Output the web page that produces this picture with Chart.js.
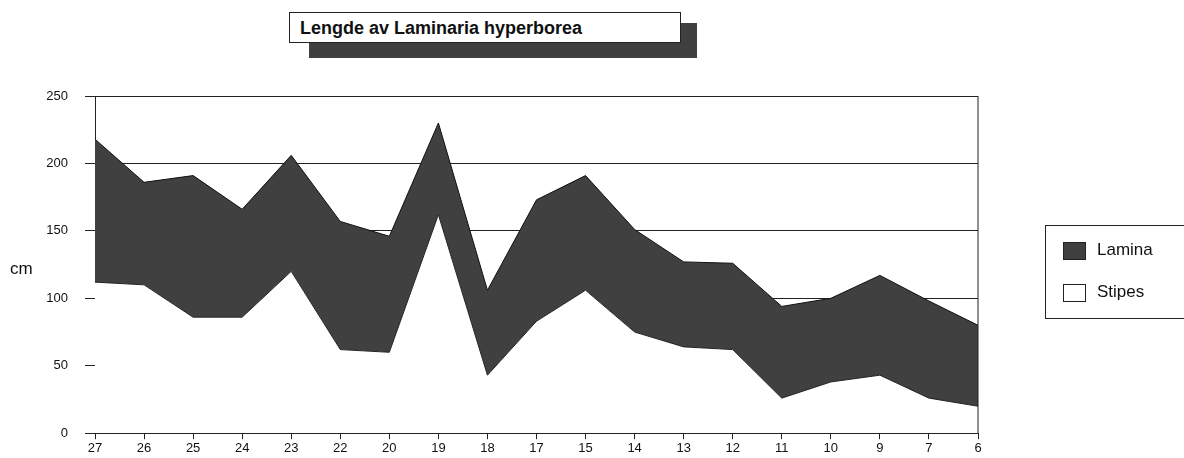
<!DOCTYPE html>
<html>
<head>
<meta charset="utf-8">
<script src="https://cdn.jsdelivr.net/npm/chart.js@4"></script>
<style>
  body { margin: 0; background: #fff; }
  #wrap { position: relative; width: 1184px; height: 458px; font-family: "Liberation Sans", Arial, sans-serif; color: #111; }
  #c { position: absolute; left: 0; top: 0; }
  .title-shadow { position: absolute; left: 309px; top: 23px; width: 388px; height: 35px; background: #404040; }
  .title { position: absolute; left: 289px; top: 12px; width: 380px; height: 29px; background: #fff; border: 1px solid #222;
           font-weight: bold; font-size: 18px; line-height: 30px; padding-left: 10px; box-sizing: content-box; }
  .cm { position: absolute; left: 10px; top: 259px; font-size: 17px; }
  .legend { position: absolute; left: 1045px; top: 225px; width: 150px; height: 92px; border: 1px solid #222; font-size: 17px; }
  .legend .row { position: absolute; left: 17px; height: 18px; line-height: 18px; }
  .legend .sw { display: inline-block; width: 23px; height: 18px; vertical-align: middle; margin-right: 11px; border: 1px solid #222; box-sizing: border-box; }
</style>
</head>
<body>
<div id="wrap">
  <canvas id="c" width="1184" height="458"></canvas>
  <div class="title-shadow"></div>
  <div class="title">Lengde av Laminaria hyperborea</div>
  <div class="cm">cm</div>
  <div class="legend">
    <div class="row" style="top:15px"><span class="sw" style="background:#404040"></span>Lamina</div>
    <div class="row" style="top:57px"><span class="sw" style="background:#fff"></span>Stipes</div>
  </div>
</div>
<script>
const stations = ['27', '26', '25', '24', '23', '22', '20', '19', '18', '17', '15', '14', '13', '12', '11', '10', '9', '7', '6'];
const stipes = [112, 110, 86, 86, 120, 62, 60, 162, 43, 83, 106, 75, 64, 62, 26, 38, 43, 26, 20];
const lamina = [106, 76, 105, 80, 86, 95, 86, 68, 63, 90, 85, 76, 63, 64, 68, 62, 74, 72, 60];
const yTicks = [0, 50, 100, 150, 200, 250];

// right edge of the back wall
const frame = {
    id: 'frame',
    afterDatasetsDraw(chart) {
        const { ctx, chartArea } = chart;
        ctx.save();
        ctx.strokeStyle = '#222';
        ctx.lineWidth = 1;
        ctx.beginPath();
        ctx.moveTo(chartArea.right, chartArea.top);
        ctx.lineTo(chartArea.right, chartArea.bottom);
        ctx.stroke();
        ctx.restore();
    },
};

new Chart(document.getElementById('c').getContext('2d'), {
    type: 'line',
    data: {
        labels: stations,
        datasets: [
            {
                label: 'Stipes',
                data: stipes,
                fill: 'origin',
                backgroundColor: '#ffffff',
                borderColor: '#222',
                borderWidth: 1,
                pointRadius: 0,
                tension: 0,
            },
            {
                label: 'Lamina',
                data: lamina,
                fill: '-1',
                backgroundColor: '#404040',
                borderColor: '#111',
                borderWidth: 1,
                pointRadius: 0,
                tension: 0,
            },
        ],
    },
    options: {
        responsive: false,
        animation: false,
        layout: { padding: { left: 0, right: 206, top: 96, bottom: 0 } },
        plugins: { legend: { display: false }, tooltip: { enabled: false } },
        scales: {
            x: {
                offset: false,
                grid: { drawOnChartArea: false, tickLength: 6, color: '#222' },
                border: { color: '#222' },
                ticks: { color: '#111', font: { family: 'Liberation Sans', size: 13 }, maxRotation: 0, autoSkip: false, padding: 1 },
                afterFit(scale) { scale.height = 23; },
            },
            y: {
                stacked: true,
                min: 0,
                max: 250,
                afterBuildTicks(scale) { scale.ticks = yTicks.map(v => ({ value: v })); },
                grid: { color: '#222', tickLength: 10 },
                border: { color: '#222' },
                ticks: { color: '#111', font: { family: 'Liberation Sans', size: 13 }, padding: 17 },
                afterFit(scale) { scale.width = 95; },
            },
        },
    },
    plugins: [frame],
});
</script>
</body>
</html>
